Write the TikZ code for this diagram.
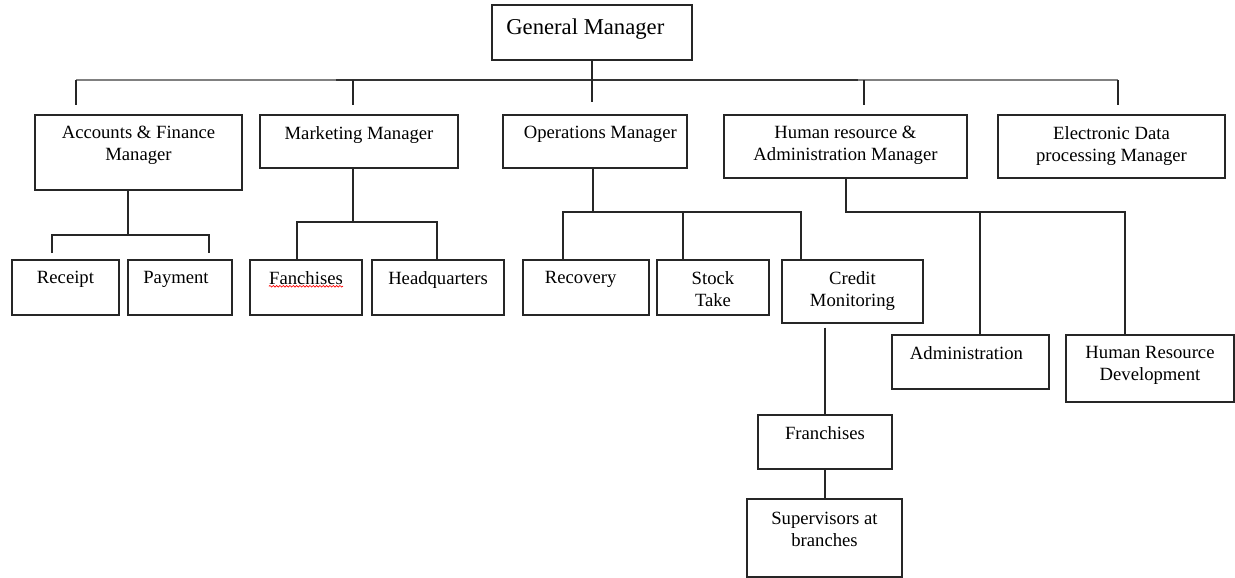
\documentclass[tikz,border=0pt]{standalone}
\usepackage{fontspec}
\setmainfont{Liberation Serif}
\usetikzlibrary{fit,calc,decorations.pathmorphing}
\begin{document}
\begin{tikzpicture}[x=0.75pt,y=-0.75pt,
  box/.style={draw=black!85, line width=1.1pt, inner sep=0pt},
  lbl/.style={font=\fontsize{14}{16.5}\selectfont, align=center, inner sep=0pt, anchor=north, text=black},
  conn/.style={draw=black!85, line width=1.1pt},
  buslight/.style={draw=black!50, line width=1.5pt},
  busdark/.style={draw=black!80, line width=1.5pt}]
\useasboundingbox[fill=white] (0,0) rectangle (1235,578);

% boxes
\node[box, fit={(492,5) (692,60)}] (gm) {};
\node[box, fit={(35,115) (242,190)}] (acc) {};
\node[box, fit={(260,115) (458,168)}] (mkt) {};
\node[box, fit={(503,115) (687,168)}] (ops) {};
\node[box, fit={(724,115) (967,178)}] (hr) {};
\node[box, fit={(998,115) (1225,178)}] (edp) {};
\node[box, fit={(12,260) (119,315)}] (rec) {};
\node[box, fit={(128,260) (232,315)}] (pay) {};
\node[box, fit={(250,260) (362,315)}] (fan) {};
\node[box, fit={(372,260) (504,315)}] (hq) {};
\node[box, fit={(523,260) (649,315)}] (recv) {};
\node[box, fit={(657,260) (769,315)}] (stock) {};
\node[box, fit={(782,260) (923,323)}] (cred) {};
\node[box, fit={(892,335) (1049,389)}] (adm) {};
\node[box, fit={(1066,335) (1234,402)}] (hrd) {};
\node[box, fit={(758,415) (892,469)}] (fr) {};
\node[box, fit={(747,499) (902,577)}] (sup) {};

% labels
\node[lbl, font=\fontsize{17}{20}\selectfont] (gm-t) at ([yshift=-11pt,xshift=-5pt]gm.north) {General Manager};
\node[lbl] (acc-t) at ([yshift=-9pt]acc.north) {Accounts \& Finance\\Manager};
\node[lbl] (mkt-t) at ([yshift=-9pt]mkt.north) {Marketing Manager};
\node[lbl] (ops-t) at ([yshift=-9pt,xshift=4pt]ops.north) {Operations Manager};
\node[lbl] (hr-t) at ([yshift=-9pt]hr.north) {Human resource \&\\Administration Manager};
\node[lbl] (edp-t) at ([yshift=-9pt]edp.north) {Electronic Data\\processing Manager};
\node[lbl] (rec-t) at ([yshift=-9pt]rec.north) {Receipt};
\node[lbl] (pay-t) at ([yshift=-9pt,xshift=-3pt]pay.north) {Payment};
\node[lbl] (fan-t) at ([yshift=-9pt]fan.north) {Fanchises};
\node[lbl] (hq-t) at ([yshift=-9pt]hq.north) {Headquarters};
\node[lbl] (recv-t) at ([yshift=-9pt,xshift=-4pt]recv.north) {Recovery};
\node[lbl] (stock-t) at ([yshift=-9pt]stock.north) {Stock\\Take};
\node[lbl] (cred-t) at ([yshift=-9pt]cred.north) {Credit\\Monitoring};
\node[lbl] (adm-t) at ([yshift=-9pt,xshift=-3pt]adm.north) {Administration};
\node[lbl] (hrd-t) at ([yshift=-9pt]hrd.north) {Human Resource\\Development};
\node[lbl] (fr-t) at ([yshift=-9pt]fr.north) {Franchises};
\node[lbl] (sup-t) at ([yshift=-10pt]sup.north) {Supervisors at\\branches};

% spell-check underline
\draw[red, line width=0.5pt, decorate, decoration={snake, amplitude=0.6pt, segment length=2.5pt}]
  ([yshift=-1pt]fan-t.south west) -- ([yshift=-1pt]fan-t.south east);

% top bus
\coordinate (bL) at (76,80);
\coordinate (bM1) at (336,80);
\coordinate (bM2) at (858,80);
\coordinate (bR) at (1118,80);
\draw[buslight] (bL) -- (bM1);
\draw[busdark] (bM1) -- (bM2);
\draw[buslight] (bM2) -- (bR);
\draw[conn] (gm.south) -- ($(gm.south |- ops.north)+(0,-12)$);
\draw[conn] (bL) -- ++(0,25);
\draw[conn] (353,80) -- (353,105);
\draw[conn] (864,80) -- (864,105);
\draw[conn] (bR) -- ++(0,25);

% accounts
\coordinate (aj) at (128,235);
\draw[conn] (aj |- acc.south) -- (aj);
\draw[conn] (52,253) -- (52,235) -- (209,235) -- (209,253);

% marketing
\coordinate (mj) at (353,222);
\draw[conn] (mj |- mkt.south) -- (mj);
\draw[conn] (fan.north -| 297,0) -- (297,222) -- (437,222) -- (hq.north -| 437,0);

% operations
\coordinate (oj) at (593,212);
\draw[conn] (oj |- ops.south) -- (oj);
\draw[conn] (recv.north -| 563,0) -- (563,212) -- (801,212) -- (cred.north -| 801,0);
\draw[conn] (683,212) -- (stock.north -| 683,0);

% human resource
\coordinate (hj) at (846,212);
\draw[conn] (hj |- hr.south) -- (hj) -- (1125,212) -- (hrd.north -| 1125,0);
\draw[conn] (980,212) -- (adm.north -| 980,0);

% credit monitoring chain
\draw[conn] ($(cred.south -| fr.north)+(0,4)$) -- (fr.north);
\draw[conn] (fr.south) -- (fr.south |- sup.north);
\end{tikzpicture}
\end{document}
